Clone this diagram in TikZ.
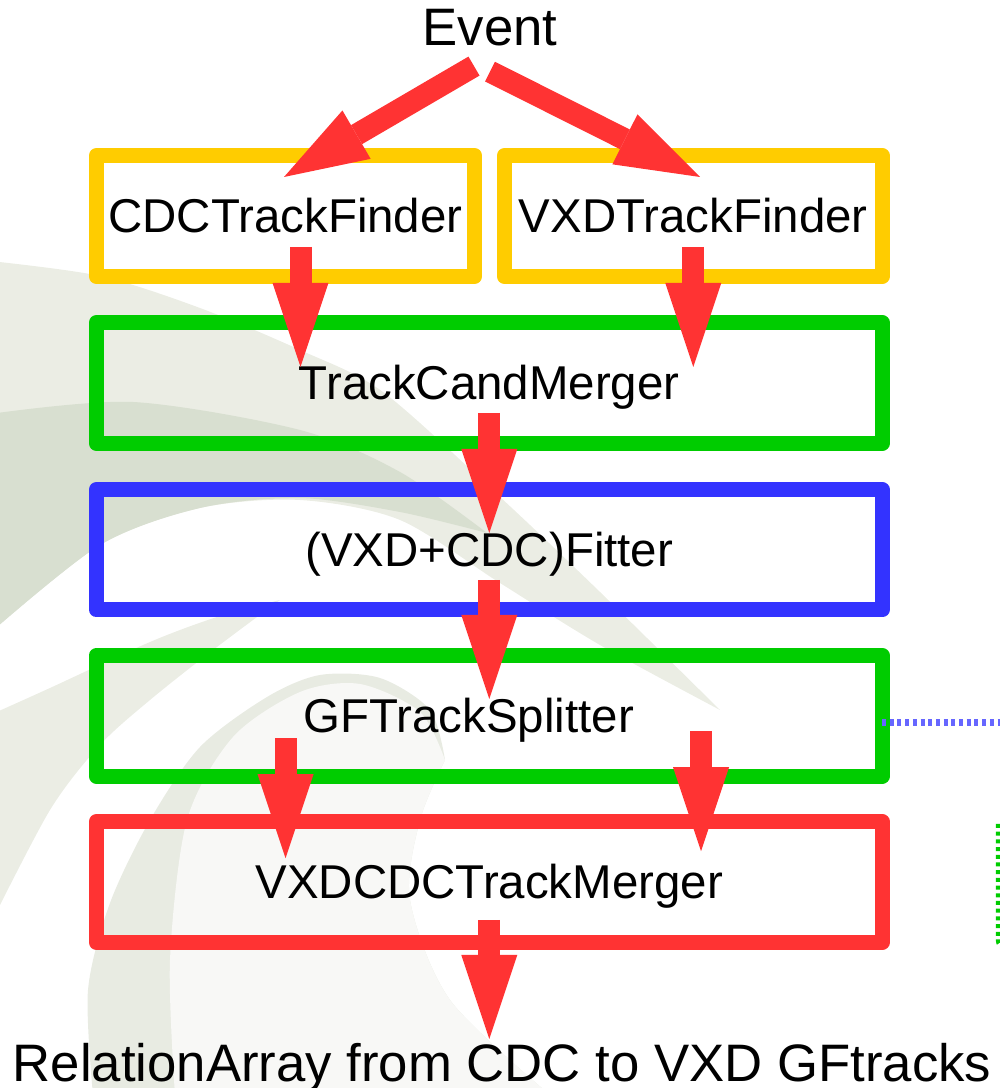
\documentclass[tikz,border=0pt]{standalone}
\usepackage{fontspec}
\setmainfont{Liberation Sans}
\usetikzlibrary{arrows.meta,positioning}
\definecolor{tfYellow}{HTML}{FFCC00}
\definecolor{tfGreen}{HTML}{00CC00}
\definecolor{tfBlue}{HTML}{3333FF}
\definecolor{tfRed}{HTML}{FF3333}
\definecolor{tfDot}{HTML}{6666FF}
\definecolor{tfMist}{HTML}{EBEDE4}
\definecolor{tfSage}{HTML}{D8DFD0}
\definecolor{tfHaze}{HTML}{E8EBE2}
\definecolor{tfPale}{HTML}{F8F8F6}
\tikzset{
  stage/.style   ={draw,line width=0.15cm,line join=round,inner sep=0pt,outer sep=0pt,
                   minimum height=1.21cm,text height=9.3pt,text depth=0pt,
                   font=\fontsize{13.5}{16}\selectfont},
  finder/.style  ={stage,draw=tfYellow,minimum width=3.78cm},
  merger/.style  ={stage,draw=tfGreen,minimum width=7.855cm},
  fitter/.style  ={stage,draw=tfBlue,minimum width=7.855cm},
  joiner/.style  ={stage,draw=tfRed,minimum width=7.855cm},
  io/.style      ={inner sep=0pt,outer sep=0pt,text height=10.3pt,text depth=0pt,
                   font=\fontsize{15}{18}\selectfont},
  flow/.style    ={tfRed,line width=0.22cm,
                   -{Triangle[width=0.56cm,length=0.84cm,line width=0pt]}},
  link/.style    ={tfDot,line width=0.065cm,dash pattern=on 0.04cm off 0.037cm},
  edgedot/.style ={tfGreen,line width=0.045cm,dash pattern=on 0.04cm off 0.037cm,
                   rounded corners=0.08cm},
}
\begin{document}
\begin{tikzpicture}
\useasboundingbox (0,0) rectangle (10,10.88);
\clip (0,0) rectangle (10,10.88);

% ── swirl in the background (drawn top-down, units of 100px) ──────────────
\begin{scope}[shift={(0,10.88)},yscale=-1]
  \fill[tfMist] plot[smooth] coordinates {(-0.1,2.61) (1,2.76) (2,3.08) (3,3.50) (3.83,3.92) (5,4.97) (6,5.92) (7.2,7.10)}
    -- plot[smooth] coordinates {(7.2,7.10) (6,6.45) (5,5.83) (4,5.20) (3,5.00) (2,5.08) (1,5.45) (-0.1,6.33)} -- cycle;
  \fill[tfSage] plot[smooth] coordinates {(-0.1,4.14) (1.33,4.02) (3,4.30) (4,4.72) (4.87,5.33)}
    -- plot[smooth] coordinates {(4.87,5.33) (4,5.12) (3,4.98) (2,5.08) (1,5.45) (-0.1,6.33)} -- cycle;
  \fill[tfMist] plot[smooth] coordinates {(-0.1,7.15) (0.5,6.88) (1.5,6.42) (2.17,6.17) (2.8,6.00)}
    -- plot[smooth] coordinates {(2.8,6.00) (2.13,6.50) (1.5,7.00) (1,7.45) (0.5,8.10) (-0.1,9.25)} -- cycle;
  \fill[tfHaze] plot[smooth] coordinates {(0.93,10.95) (0.88,9.90) (1.10,9.03) (1.5,8.20) (2,7.47) (2.67,6.97) (3.2,6.75) (3.8,6.78) (4.3,7.10) (4.45,7.60)}
    -- plot[smooth] coordinates {(4.45,7.60) (4.2,8.20) (4.1,9.00) (4.5,10.0) (5.5,10.95)} -- cycle;
  \fill[tfPale] plot[smooth] coordinates {(1.75,10.95) (1.70,9.60) (1.87,8.20) (2.33,7.37) (3,6.92) (3.6,6.84) (4.2,7.12) (4.45,7.60)}
    -- plot[smooth] coordinates {(4.45,7.60) (4.2,8.20) (4.1,9.00) (4.5,10.0) (5.5,10.95)} -- cycle;
\end{scope}

% ── stages ─────────────────────────────────────────────────────────────────
\node[io] (ev) at (4.90,10.605) {Event};
\node[finder] (cdc) at (2.855,8.72) {CDCTrackFinder};
\node[finder,minimum width=3.775cm] (vxd) at (6.9325,8.72) {VXDTrackFinder};
\node[merger] (tcm) at (4.8925,7.05) {TrackCandMerger};
\node[fitter,minimum height=1.205cm] (fit) at (4.8925,5.3825) {(VXD+CDC)Fitter};
\node[merger,label={[stage,draw=none,xshift=-0.205cm]center:GFTrackSplitter}] (spl) at (4.8925,3.7225) {};
\node[joiner] (vcm) at (4.8925,2.06) {VXDCDCTrackMerger};
\node[io] (out) at (5.02,0.245) {RelationArray from CDC to VXD GFtracks};

% ── side links leaving the page ────────────────────────────────────────────
\draw[link] ([yshift=-0.07cm]spl.east) -- ++(1.3,0);
\draw[edgedot] (9.98,2.64) -- (9.98,1.40) -- (10.4,1.40);

% ── data flow ──────────────────────────────────────────────────────────────
\draw[flow] ([shift={(-0.16,-0.205)}]ev.south) -- ([shift={(-0.015,-0.215)}]cdc.north);
\draw[flow] ([shift={(0,-0.26)}]ev.south) -- ([shift={(0.0675,-0.215)}]vxd.north);
\draw[flow] ([shift={(0.15,0.295)}]cdc.south) -- ++(0,-1.2);
\draw[flow] ([shift={(0,0.295)}]vxd.south) -- ++(0,-1.2);
\draw[flow] ([shift={(0,0.305)}]tcm.south) -- ++(0,-1.2);
\draw[flow] ([shift={(0,0.30)}]fit.south) -- ++(0,-1.19);
\draw[flow] ([shift={(-2.0375,0.38)}]spl.south) -- ++(0,-1.2);
\draw[flow] ([shift={(2.1175,0.45)}]spl.south) -- ++(0,-1.2);
\draw[flow] ([shift={(0,0.225)}]vcm.south) -- ++(0,-1.19);
\end{tikzpicture}
\end{document}
